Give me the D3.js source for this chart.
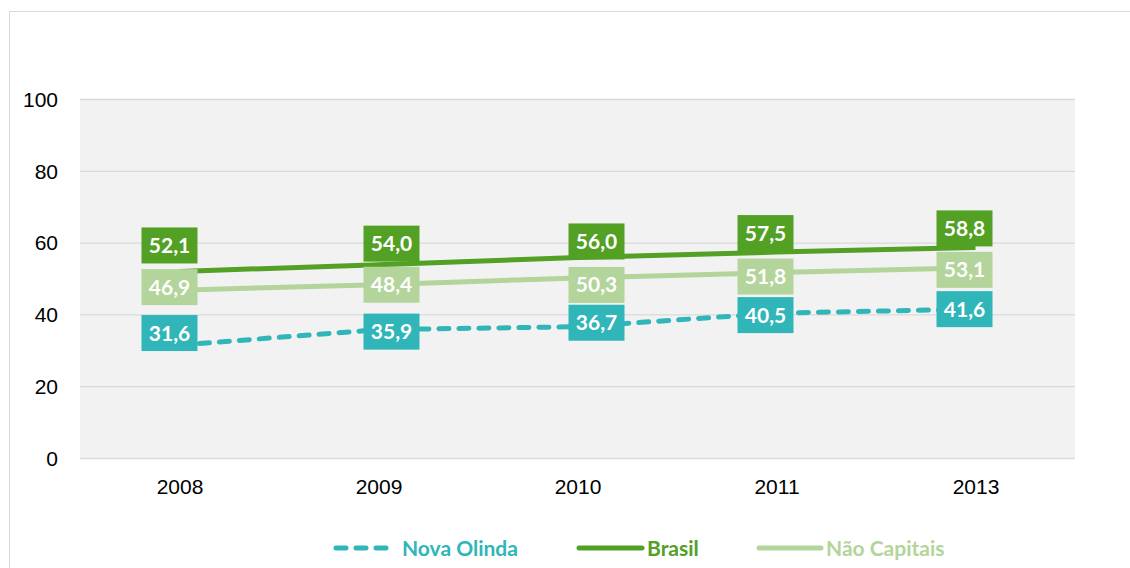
<!DOCTYPE html>
<meta charset="utf-8">
<style>
  body { margin: 0; background: #fff; }
  svg { font-family: Lato, "Open Sans", sans-serif; }
  .grid line { stroke: #d9d9d9; stroke-width: 1.3px; }
  .tick-label { font-size: 21px; fill: #000; }
  .value-label { font-size: 21px; font-weight: bold; fill: #fff; }
  .legend-label { font-size: 21px; font-weight: bold; }
</style>

<svg width="1130" height="568"></svg>

<script src="https://d3js.org/d3.v7.min.js"></script>
<script>
// ---- data ----
const years = ["2008", "2009", "2010", "2011", "2013"]
const novaOlinda = [31.6, 35.9, 36.7, 40.5, 41.6]
const brasil = [52.1, 54.0, 56.0, 57.5, 58.8]
const naoCapitais = [46.9, 48.4, 50.3, 51.8, 53.1]
const yTicks = [0, 20, 40, 60, 80, 100]

const series = [
  {name: "Nova Olinda", values: novaOlinda, color: "#30b5b9", dash: "10,10", labelDy: [-12, 2, -4, 2, 0]},
  {name: "Brasil", values: brasil, color: "#52a024", dash: null, labelDy: [-26, -21, -16, -19, -19]},
  {name: "Não Capitais", values: naoCapitais, color: "#b3d49a", dash: null, labelDy: [-3, 0, 7, 4, 2]}
]
// labels sit a little off the point, like in the original
const labelDx = [-10, 13, 19, -11, -11]

// ---- layout ----
const svg = d3.select("svg")
const plot = {left: 80, right: 1075, top: 99.5, bottom: 458.5}

const fmt = v => d3.format(".1f")(v).replace(".", ",")

const x = d3.scalePoint()
  .domain(years)
  .range([plot.left, plot.right])
  .padding(0.5)

const y = d3.scaleLinear()
  .domain([0, 100])
  .range([plot.bottom, plot.top])

// outer frame
svg.append("rect")
  .attr("x", 9.5).attr("y", 11.5)
  .attr("width", 1130).attr("height", 570)
  .attr("fill", "none")
  .attr("stroke", "#d9d9d9")

// plot background
svg.append("rect")
  .attr("x", plot.left).attr("y", plot.top)
  .attr("width", plot.right - plot.left)
  .attr("height", plot.bottom - plot.top)
  .attr("fill", "#f2f2f2")

// gridlines
svg.append("g")
  .attr("class", "grid")
  .selectAll("line")
  .data(yTicks)
  .enter()
  .append("line")
  .attr("x1", plot.left).attr("x2", plot.right)
  .attr("y1", d => y(d)).attr("y2", d => y(d))

// y axis labels
const yAxis = d3.axisLeft(y).tickValues(yTicks).tickSize(0).tickPadding(22)
svg.append("g")
  .attr("transform", `translate(${plot.left},0)`)
  .call(yAxis)
  .call(g => g.select(".domain").remove())
  .selectAll("text")
  .attr("class", "tick-label")
  .attr("font-family", null)
  .attr("font-size", null)
  .attr("fill", null)

// x axis labels
const xAxis = d3.axisBottom(x).tickSize(0).tickPadding(21)
svg.append("g")
  .attr("transform", `translate(0,${plot.bottom})`)
  .call(xAxis)
  .call(g => g.select(".domain").remove())
  .selectAll("text")
  .attr("class", "tick-label")
  .attr("font-family", null)
  .attr("font-size", null)
  .attr("fill", null)

// lines
const line = d3.line()
  .x((d, i) => x(years[i]))
  .y(d => y(d))

svg.append("g")
  .selectAll("path")
  .data(series)
  .enter()
  .append("path")
  .attr("d", d => line(d.values))
  .attr("fill", "none")
  .attr("stroke", d => d.color)
  .attr("stroke-width", 5)
  .attr("stroke-linecap", d => d.dash ? "round" : "butt")
  .attr("stroke-dasharray", d => d.dash)

// value labels
const boxW = 56, boxH = 36
series.forEach(s => {
  const g = svg.append("g")
    .selectAll("g")
    .data(s.values)
    .enter()
    .append("g")
    .attr("transform", (d, i) =>
      `translate(${x(years[i]) + labelDx[i]},${y(d) + s.labelDy[i]})`)

  g.append("rect")
    .attr("x", -boxW / 2).attr("y", -boxH / 2)
    .attr("width", boxW).attr("height", boxH)
    .attr("fill", s.color)

  g.append("text")
    .attr("class", "value-label")
    .attr("text-anchor", "middle")
    .attr("dy", "0.36em")
    .text(d => fmt(d))
})

// legend
const legendItems = [
  {s: series[0], x: 336, w: 52},
  {s: series[1], x: 579, w: 63},
  {s: series[2], x: 759, w: 62}
]
const legendY = 548

const lg = svg.append("g")
  .selectAll("g")
  .data(legendItems)
  .enter()
  .append("g")
  .attr("transform", d => `translate(${d.x},${legendY})`)

lg.append("line")
  .attr("x1", 0).attr("x2", d => d.w)
  .attr("stroke", d => d.s.color)
  .attr("stroke-width", 5)
  .attr("stroke-linecap", "round")
  .attr("stroke-dasharray", d => d.s.dash)

lg.append("text")
  .attr("class", "legend-label")
  .attr("x", d => d.w + (d.s.dash ? 14 : 5))
  .attr("dy", "0.36em")
  .attr("fill", d => d.s.color)
  .text(d => d.s.name)
</script>
